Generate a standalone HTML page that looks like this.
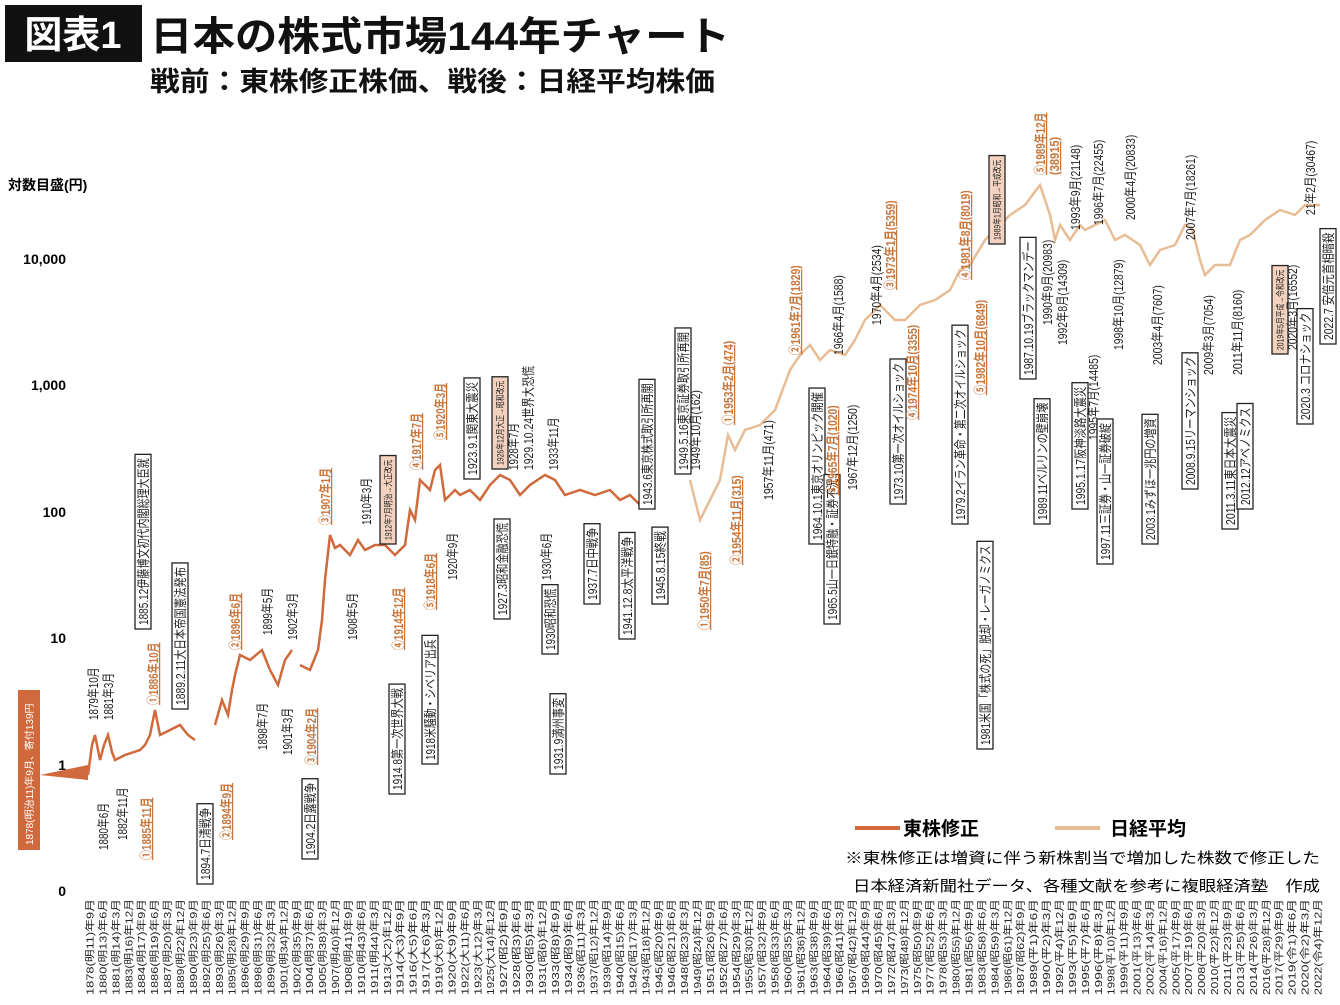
<!DOCTYPE html>
<html><head><meta charset="utf-8"><style>
body{margin:0;background:#fff;width:1340px;height:1000px;overflow:hidden;font-family:"Liberation Sans","Noto Sans CJK JP",sans-serif}
</style></head><body>
<svg id="s" width="1340" height="1000" xmlns="http://www.w3.org/2000/svg" font-family="'Liberation Sans','Noto Sans CJK JP',sans-serif">
<rect x="5" y="5" width="137" height="57" fill="#111"/>
<text x="73" y="48" fill="#fff" font-size="38" font-weight="bold" text-anchor="middle">図表1</text>
<text x="150" y="50" font-size="40" font-weight="bold" fill="#111" textLength="580" lengthAdjust="spacingAndGlyphs">日本の株式市場144年チャート</text>
<text x="150" y="91" font-size="27" fill="#111" textLength="565" lengthAdjust="spacingAndGlyphs" font-weight="bold">戦前：東株修正株価、戦後：日経平均株価</text>
<text x="8" y="190" font-size="14" font-weight="bold">対数目盛(円)</text>
<g font-size="14" font-weight="bold" text-anchor="end">
<text x="66" y="264">10,000</text><text x="66" y="390">1,000</text><text x="66" y="517">100</text><text x="66" y="643">10</text><text x="66" y="770">1</text><text x="66" y="896">0</text>
</g>
<polyline fill="none" stroke="#d0693b" stroke-width="2.5" points="88,775 92,745 95,735 100,760 104,745 108,735 112,752 115,760 125,755 140,750 145,745 150,735 155,710 160,735 170,730 180,725 188,735 195,740"/>
<polyline fill="none" stroke="#d0693b" stroke-width="2.5" points="215,725 222,700 228,715 232,690 235,675 240,655 250,660 262,650 270,670 278,685 285,660 292,650"/>
<polyline fill="none" stroke="#d0693b" stroke-width="2.5" points="300,665 310,670 318,650 322,620 325,580 330,535 335,548 340,545 350,555 358,540 365,550 375,545 385,545 395,555 405,545 410,510 415,520 420,480 430,490 435,470 440,465 445,500 455,490 460,495 470,490 480,500 490,485 500,475 510,480 520,495 530,485 545,475 555,480 565,495 580,490 595,495 610,490 620,500 630,495 640,505"/>
<polyline fill="none" stroke="#e8bc94" stroke-width="2.5" points="690,480 695,500 700,520 705,510 710,500 720,480 728,435 735,450 745,430 760,425 775,410 790,370 800,355 810,345 820,360 830,350 845,355 855,340 865,320 880,305 895,320 905,320 920,305 935,300 950,290 960,270 970,265 985,240 1000,225 1010,215 1025,205 1040,185 1045,200 1050,215 1055,240 1060,225 1070,240 1080,225 1085,230 1095,225 1105,220 1115,240 1125,235 1140,245 1150,265 1160,250 1175,245 1185,225 1192,228 1200,260 1205,275 1215,265 1230,265 1240,240 1250,235 1265,220 1280,210 1295,215 1305,205 1320,205"/>
<g id="ann"></g><g id="xl" font-size="10" fill="#222"></g>
<line x1="855" y1="828" x2="900" y2="828" stroke="#d0693b" stroke-width="4"/>
<text x="903" y="835" font-size="19" font-weight="bold">東株修正</text>
<line x1="1055" y1="828" x2="1100" y2="828" stroke="#e8bc94" stroke-width="4"/>
<text x="1110" y="835" font-size="19" font-weight="bold">日経平均</text>
<text x="845" y="863" font-size="15" textLength="475" lengthAdjust="spacingAndGlyphs">※東株修正は増資に伴う新株割当で増加した株数で修正した</text>
<text x="853" y="891" font-size="15" textLength="467" lengthAdjust="spacingAndGlyphs">日本経済新聞社データ、各種文献を参考に複眼経済塾　作成</text>
<rect x="18" y="690" width="22" height="160" fill="#d0693b"/>
<polygon points="40,775 88,765 88,780" fill="#d0693b"/>
<text transform="translate(33,845) rotate(-90)" font-size="10" fill="#fff">1878(明治11)年9月、寄付139円</text>
</svg>
<script>
var A=[
[143,625,"1885.12伊藤博文初代内閣総理大臣就",1],[180,705,"1889.2.11大日本帝国憲法発布",1],
[93,720,"1879年10月",0],[108,720,"1881年3月",0],[103,850,"1880年6月",0],[122,840,"1882年11月",0],
[146,860,"①1885年11月",2],[153,705,"①1886年10月",2],[205,880,"1894.7日清戦争",1],[226,840,"②1894年9月",2],
[235,650,"②1896年6月",2],[262,750,"1898年7月",0],[267,635,"1899年5月",0],[287,755,"1901年3月",0],[292,640,"1902年3月",0],
[310,855,"1904.2日露戦争",1],[311,765,"③1904年2月",2],[325,525,"③1907年1月",2],[352,640,"1908年5月",0],[366,525,"1910年3月",0],
[388,540,"1912年7月明治→大正改元",3],[397,790,"1914.8第一次世界大戦",1],[398,650,"④1914年12月",2],[416,470,"④1917年7月",2],
[430,760,"1918米騒動・シベリア出兵",1],[430,610,"⑤1918年6月",2],[440,440,"⑤1920年3月",2],[452,580,"1920年9月",0],
[472,475,"1923.9.1関東大震災",1],[500,465,"1926年12月大正→昭和改元",3],[513,470,"1928年7月",0],[528,470,"1929.10.24世界大恐慌",0],
[553,470,"1933年11月",0],[502,615,"1927.3昭和金融恐慌",1],[546,580,"1930年6月",0],[550,650,"1930昭和恐慌",1],
[558,770,"1931.9満州事変",1],[592,600,"1937.7日中戦争",1],[627,635,"1941.12.8太平洋戦争",1],[647,505,"1943.6東京株式取引所再開",1],
[660,600,"1945.8.15終戦",1],[683,470,"1949.5.16東京証券取引所再開",1],[695,470,"1949年10月(162)",0],[704,630,"①1950年7月(85)",2],
[728,425,"①1953年2月(474)",2],[736,565,"②1954年11月(315)",2],[768,500,"1957年11月(471)",0],[795,355,"②1961年7月(1829)",2],
[817,540,"1964.10.1東京オリンピック開催",1],[832,620,"1965.5山一日銀特融・証券不況",1],[832,495,"③1965年7月(1020)",2],
[838,355,"1966年4月(1588)",0],[852,490,"1967年12月(1250)",0],[876,325,"1970年4月(2534)",0],[890,290,"③1973年1月(5359)",2],
[898,500,"1973.10第一次オイルショック",1],[912,420,"④1974年10月(3355)",2],[965,280,"④1981年8月(8019)",2],
[960,520,"1979.2イラン革命・第二次オイルショック",1],[980,395,"⑤1982年10月(6849)",2],[985,745,"1981米国「株式の死」脱却・レーガノミクス",1],
[997,240,"1989年1月昭和→平成改元",3],[1040,175,"⑤1989年12月",2],[1054,175,"(38915)",2],[1028,375,"1987.10.19ブラックマンデー",1],
[1042,520,"1989.11ベルリンの壁崩壊",1],[1047,325,"1990年9月(20983)",0],[1062,345,"1992年8月(14309)",0],[1075,230,"1993年9月(21148)",0],
[1080,505,"1995.1.17阪神淡路大震災",1],[1093,440,"1995年7月(14485)",0],[1098,225,"1996年7月(22455)",0],[1105,560,"1997.11三証券・山一証券破綻",1],
[1118,350,"1998年10月(12879)",0],[1130,220,"2000年4月(20833)",0],[1150,540,"2003.1みずほ一兆円の増資",1],[1157,365,"2003年4月(7607)",0],
[1190,240,"2007年7月(18261)",0],[1190,485,"2008.9.15リーマンショック",1],[1208,375,"2009年3月(7054)",0],[1230,525,"2011.3.11東日本大震災",1],
[1237,375,"2011年11月(8160)",0],[1245,505,"2012.12アベノミクス",1],[1280,350,"2019年5月平成→令和改元",3],[1292,350,"2020年3月(16552)",0],
[1305,420,"2020.3 コロナショック",1],[1310,215,"21年2月(30467)",0],[1328,340,"2022.7 安倍元首相暗殺",1]];
var g=document.getElementById('ann'),h="";
A.forEach(function(a){var x=a[0],y=a[1],t=a[2],k=a[3];var fs=k==3?9:13;var len=0;
for(var i=0;i<t.length;i++){len+=t.charCodeAt(i)<256?fs*0.42:fs*0.76;}
if(k==1||k==3){h+='<rect x="'+(x-8)+'" y="'+(y-len-4)+'" width="16" height="'+(len+8)+'" fill="'+(k==3?'#f3d3bf':'#fff')+'" stroke="#222" stroke-width="1.3"/>';}
var c=k==2?'#c8763c':'#222',w=k==2?'bold':'normal',dec=k==2?' text-decoration="underline"':'';
h+='<text transform="translate('+(x+fs*0.38)+','+y+') rotate(-90)" font-size="'+fs+'" fill="'+c+'" font-weight="'+w+'"'+dec+' textLength="'+len+'" lengthAdjust="spacingAndGlyphs">'+t+'</text>';});
g.innerHTML=h;
var era=function(y){return y<1912?"明"+(y-1867):y<1926?"大"+(y-1911):y<1989?"昭"+(y-1925):y<2019?"平"+(y-1988):"令"+(y-2018)};
var m=["9月","6月","3月","12月"],xh="",n=96;
for(var i=0;i<n;i++){var x=90+i*(1318-90)/(n-1);var yr=Math.round(1878+i*144/(n-1));
xh+='<text transform="translate('+(x+3.5)+',995) rotate(-90)" textLength="96" lengthAdjust="spacingAndGlyphs">'+yr+'('+era(yr)+')年'+m[i%4]+'</text>';}
document.getElementById('xl').innerHTML=xh;
</script>
</body></html>
